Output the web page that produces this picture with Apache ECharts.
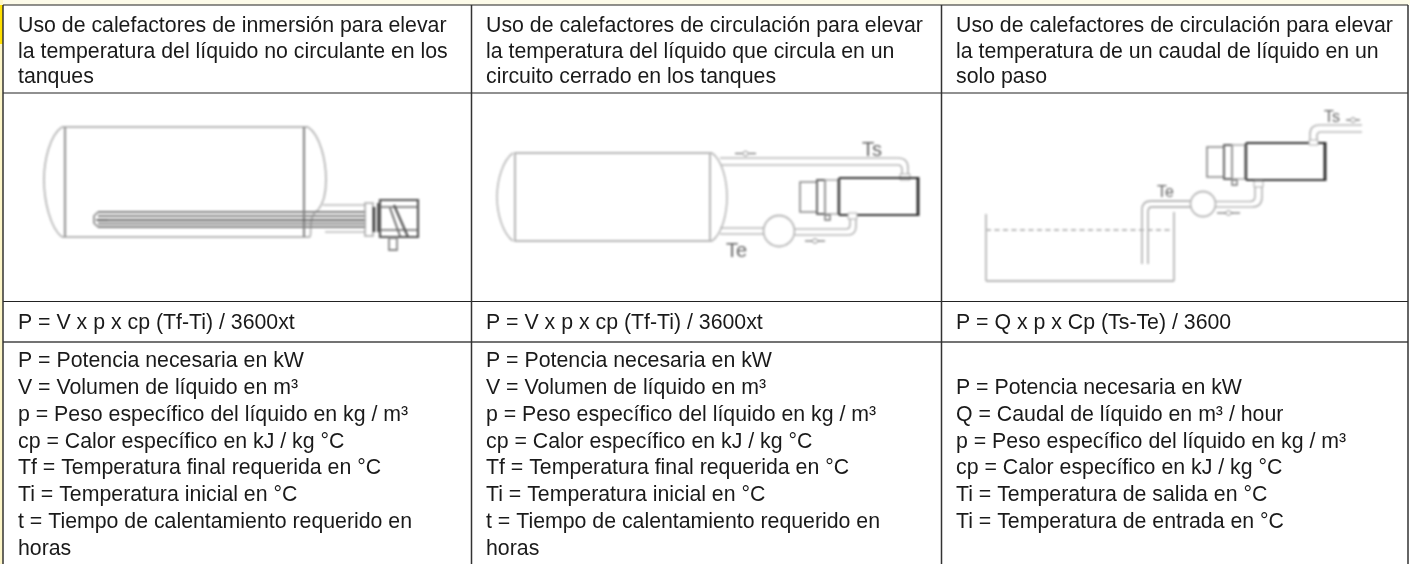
<!DOCTYPE html>
<html>
<head>
<meta charset="utf-8">
<style>
  html, body { margin: 0; padding: 0; background: #fff; }
  #wrap { position: relative; width: 1410px; height: 564px; overflow: hidden; }
  #table, #diagrams { position: absolute; left: 0; top: 0; width: 1410px; height: 564px; }
  /* los dibujos del original estan algo borrosos */
  #diagrams { filter: blur(0.8px); }
</style>
<script src="https://cdn.jsdelivr.net/npm/echarts@6/dist/echarts.min.js"></script>
</head>
<body>
<div id="wrap">
  <div id="table"></div>
  <div id="diagrams"></div>
</div>
<script>
const headers = [
  ['Uso de calefactores de inmersión para elevar', 'la temperatura del líquido no circulante en los', 'tanques'],
  ['Uso de calefactores de circulación para elevar', 'la temperatura del líquido que circula en un', 'circuito cerrado en los tanques'],
  ['Uso de calefactores de circulación para elevar', 'la temperatura de un caudal de líquido en un', 'solo paso']
]
const formulas = [
  'P = V x p x cp (Tf-Ti) / 3600xt',
  'P = V x p x cp (Tf-Ti) / 3600xt',
  'P = Q x p x Cp (Ts-Te) / 3600'
]
const legendTank = [
  'P = Potencia necesaria en kW',
  'V = Volumen de líquido en m³',
  'p = Peso específico del líquido en kg / m³',
  'cp = Calor específico en kJ / kg °C',
  'Tf = Temperatura final requerida en °C',
  'Ti = Temperatura inicial en °C',
  't = Tiempo de calentamiento requerido en',
  'horas'
]
const legendFlow = [
  'P = Potencia necesaria en kW',
  'Q = Caudal de líquido en m³ / hour',
  'p = Peso específico del líquido en kg / m³',
  'cp = Calor específico en kJ / kg °C',
  'Ti = Temperatura de salida en °C',
  'Ti = Temperatura de entrada en °C'
]
const legends = [legendTank, legendTank, legendFlow]

const colX = [3, 471.5, 941.5, 1408]
const rowY = [5, 93, 301.5, 342]
const textLeft = [18, 486, 956]
const textColor = '#1a1a1a'
const textFont = '"Liberation Sans", Arial, sans-serif'
const bodySize = 21.3

function seg(x1, y1, x2, y2, stroke, lineWidth, extra) {
  return {
    type: 'line',
    shape: { x1, y1, x2, y2 },
    style: Object.assign({ stroke, lineWidth, fill: null }, extra || {})
  }
}
function curve(x1, y1, cx1, cy1, cx2, cy2, x2, y2, stroke, lineWidth) {
  return {
    type: 'bezierCurve',
    shape: { x1, y1, x2, y2, cpx1: cx1, cpy1: cy1, cpx2: cx2, cpy2: cy2 },
    style: { stroke, lineWidth, fill: null }
  }
}
function box(x, y, width, height, stroke, lineWidth, fill) {
  return {
    type: 'rect',
    shape: { x, y, width, height },
    style: { stroke, lineWidth, fill: fill || null }
  }
}
// y es la linea base del texto
function label(text, x, y, fontSize, fill) {
  return {
    type: 'text',
    x, y: y - fontSize * 0.75,
    style: { text, fill: fill || textColor, font: fontSize + 'px ' + textFont }
  }
}

// ---- tabla ----
function buildTable() {
  const els = []
  els.push({ type: 'rect', shape: { x: 0, y: 0, width: 1410, height: 5 }, style: { fill: '#fdfbe9' } })
  els.push({ type: 'rect', shape: { x: 0, y: 0, width: 3, height: 564 }, style: { fill: '#fdf6c8' } })
  els.push({ type: 'rect', shape: { x: 0, y: 5, width: 3, height: 39 }, style: { fill: '#ffe000' } })
  rowY.forEach((y, i) => {
    els.push(seg(3, y, 1408, y, i === 3 ? '#444' : '#222', i === 3 ? 1.5 : 1.2))
  })
  colX.forEach(x => {
    els.push(seg(x, 5, x, 564, '#333', 1.5))
  })
  textLeft.forEach((x, c) => {
    headers[c].forEach((t, i) => {
      els.push(label(t, x, 31.7 + i * 25.6, bodySize))
    })
    els.push(label(formulas[c], x, 328.8, bodySize))
    const startY = c === 2 ? 393.6 : 366.8
    legends[c].forEach((t, i) => {
      els.push(label(t, x, startY + i * 26.8, bodySize))
    })
  })
  return els
}

// ---- dibujos ----
const gray = '#b8b8b8'

function arrow(x1, x2, y) {
  const m = (x1 + x2) / 2
  return [
    seg(x1, y, m - 3, y, '#777', 1.3),
    seg(m + 3, y, x2, y, '#777', 1.3),
    { type: 'polygon', shape: { points: [[m - 4, y], [m, y - 2.5], [m + 4, y], [m, y + 2.5]] }, style: { stroke: '#888', lineWidth: 1, fill: '#fff' } }
  ]
}

function heater(x0, y0) {
  // x0,y0 = esquina superior izquierda del cuerpo negro
  return [
    box(x0 - 38, y0 + 4, 17, 30, '#888', 1.6),
    box(x0 - 21, y0 + 2, 8, 34, '#666', 1.8),
    box(x0 - 13, y0 + 2, 13, 34, '#aaa', 1.4),
    seg(x0 + 1, y0, x0 + 80, y0, '#333', 2.2),
    seg(x0 + 80, y0 - 1, x0 + 80, y0 + 38, '#222', 2.8),
    seg(x0 + 1, y0 + 37, x0 + 80, y0 + 37, '#333', 2.2),
    seg(x0 + 1, y0, x0 + 1, y0 + 37, '#444', 2.4),
    box(x0 - 13, y0 + 37, 5, 5, '#777', 1.4)
  ]
}

function buildDiagrams() {
  const els = []

  // columna 1: depósito con resistencia de inmersión
  els.push(seg(62, 127, 308, 127, gray, 2.2))
  els.push(seg(62, 237, 310, 237, gray, 2.2))
  els.push(seg(65, 127, 65, 237, '#999', 2.2))
  els.push(seg(304, 127, 304, 237, '#888', 2.2))
  els.push(curve(62, 127, 50, 135, 44, 160, 44, 180, gray, 1.8))
  els.push(curve(44, 180, 44, 200, 50, 228, 62, 237, gray, 1.8))
  els.push(curve(308, 127, 320, 135, 326, 160, 326, 180, gray, 1.8))
  els.push(curve(326, 180, 326, 192, 324, 203, 318, 210, gray, 1.8))
  els.push(curve(318, 210, 308, 216, 312, 230, 310, 237, gray, 1.8))
  els.push(seg(323, 205, 365, 205, gray, 1.7))
  els.push(seg(325, 232, 365, 232, gray, 1.7))
  const rodY = [212, 216, 220, 223.5, 227]
  rodY.forEach((y, i) => {
    els.push(seg(98, y, 366, y, i === 2 ? '#666' : '#808080', 2))
  })
  els.push({ type: 'polyline', shape: { points: [[98, 212], [94, 216], [94, 223], [98, 227]] }, style: { stroke: '#888', lineWidth: 1.7, fill: null } })
  els.push(seg(96, 220, 108, 220, '#555', 1.6))
  els.push(box(365, 203, 8, 33, '#aaa', 1.6))
  els.push(seg(374, 207, 374, 232, '#333', 2.4))
  els.push(seg(378, 203, 378, 232, '#555', 2))
  els.push(box(380, 200, 38, 37, '#555', 2.2))
  els.push(seg(380, 207, 418, 207, '#666', 1.7))
  els.push(seg(380, 230, 418, 230, '#666', 1.7))
  els.push(seg(394, 205, 408, 237, '#555', 2.2))
  els.push(seg(390, 208, 400, 236, '#666', 1.8))
  els.push(box(389, 238, 8, 12, '#888', 1.8))

  // columna 2: circuito cerrado
  els.push(seg(514, 153, 712, 153, gray, 1.8))
  els.push(seg(514, 241, 712, 241, gray, 1.8))
  els.push(seg(515, 153, 515, 241, gray, 2))
  els.push(seg(710, 153, 710, 241, gray, 2))
  els.push(curve(513, 153, 503, 160, 497, 180, 497, 197, gray, 1.6))
  els.push(curve(497, 197, 497, 214, 503, 234, 513, 241, gray, 1.6))
  els.push(curve(712, 153, 722, 160, 727, 180, 727, 197, gray, 1.6))
  els.push(curve(727, 197, 727, 214, 722, 234, 712, 241, gray, 1.6))
  els.push(seg(720, 158, 898, 158, gray, 1.7))
  els.push(seg(721, 165, 898, 165, gray, 1.7))
  els.push(curve(898, 158, 905, 158, 908, 161, 908, 168, gray, 1.7))
  els.push(curve(898, 165, 901, 165, 902, 167, 902, 170, gray, 1.7))
  els.push(seg(908, 168, 908, 174, gray, 1.7))
  els.push(seg(902, 170, 902, 174, gray, 1.7))
  els.push(box(900, 174, 10, 6, '#aaa', 1, '#fff'))
  els.push(...heater(838, 178))
  els.push(box(848, 213, 9, 6, '#aaa', 1, '#fff'))
  els.push(seg(720, 228, 764, 228, gray, 1.7))
  els.push(seg(720, 234, 764, 234, gray, 1.7))
  els.push({ type: 'circle', shape: { cx: 779, cy: 231, r: 15.5 }, style: { stroke: gray, lineWidth: 1.8, fill: '#fff' } })
  els.push(seg(795, 229, 846, 229, gray, 1.7))
  els.push(seg(795, 235, 848, 235, gray, 1.7))
  els.push(curve(846, 229, 849, 229, 850, 227, 850, 224, gray, 1.7))
  els.push(curve(848, 235, 853, 235, 856, 232, 856, 226, gray, 1.7))
  els.push(seg(850, 224, 850, 219, gray, 1.7))
  els.push(seg(856, 226, 856, 219, gray, 1.7))
  els.push(...arrow(735, 756, 153.5))
  els.push(...arrow(805, 825, 241))
  els.push(label('Ts', 862, 155, 20, '#666'))
  els.push(label('Te', 726, 256, 20, '#666'))

  // columna 3: un solo paso
  els.push(seg(986, 214, 986, 281, gray, 1.8))
  els.push(seg(1174, 212, 1174, 281, gray, 1.8))
  els.push(seg(986, 281, 1174, 281, gray, 2.2))
  els.push(seg(986, 230, 1174, 230, '#bbb', 1.8, { lineDash: [5, 3.5] }))
  els.push(seg(1142, 264, 1142, 210, gray, 1.8))
  els.push(seg(1148, 264, 1148, 212, gray, 1.8))
  els.push(curve(1142, 210, 1142, 204, 1145, 201, 1151, 201, gray, 1.8))
  els.push(curve(1148, 212, 1148, 209, 1149, 207, 1152, 207, gray, 1.8))
  els.push(seg(1151, 201, 1190, 201, gray, 1.8))
  els.push(seg(1152, 207, 1190, 207, gray, 1.8))
  els.push({ type: 'circle', shape: { cx: 1203, cy: 204, r: 12.5 }, style: { stroke: gray, lineWidth: 1.8, fill: '#fff' } })
  els.push(seg(1216, 201.5, 1250, 201.5, gray, 1.7))
  els.push(seg(1216, 207, 1252, 207, gray, 1.7))
  els.push(curve(1250, 201.5, 1254, 201.5, 1255, 199, 1255, 196, gray, 1.7))
  els.push(curve(1252, 207, 1259, 207, 1262, 203, 1262, 197, gray, 1.7))
  els.push(seg(1255, 196, 1255, 187, gray, 1.7))
  els.push(seg(1262, 197, 1262, 187, gray, 1.7))
  els.push(...heater(1245, 143))
  els.push(box(1254, 181, 9, 6, '#aaa', 1, '#fff'))
  els.push(box(1309, 140, 9, 5, '#aaa', 1, '#fff'))
  els.push(seg(1310, 140, 1310, 134, gray, 1.7))
  els.push(seg(1317, 140, 1317, 136, gray, 1.7))
  els.push(curve(1310, 134, 1310, 128, 1314, 125, 1320, 125, gray, 1.7))
  els.push(curve(1317, 136, 1317, 133, 1319, 132, 1321, 132, gray, 1.7))
  els.push(seg(1320, 125, 1362, 125, gray, 1.7))
  els.push(seg(1321, 132, 1362, 132, gray, 1.7))
  els.push(...arrow(1346, 1360, 120))
  els.push(...arrow(1217, 1240, 213))
  els.push(label('Ts', 1324, 122, 16, '#666'))
  els.push(label('Te', 1157, 197, 16, '#666'))
  return els
}

const tableChart = echarts.init(document.getElementById('table'))
tableChart.setOption({ animation: false, graphic: { elements: buildTable() } })
const diagramChart = echarts.init(document.getElementById('diagrams'))
diagramChart.setOption({ animation: false, graphic: { elements: buildDiagrams() } })
</script>
</body>
</html>
